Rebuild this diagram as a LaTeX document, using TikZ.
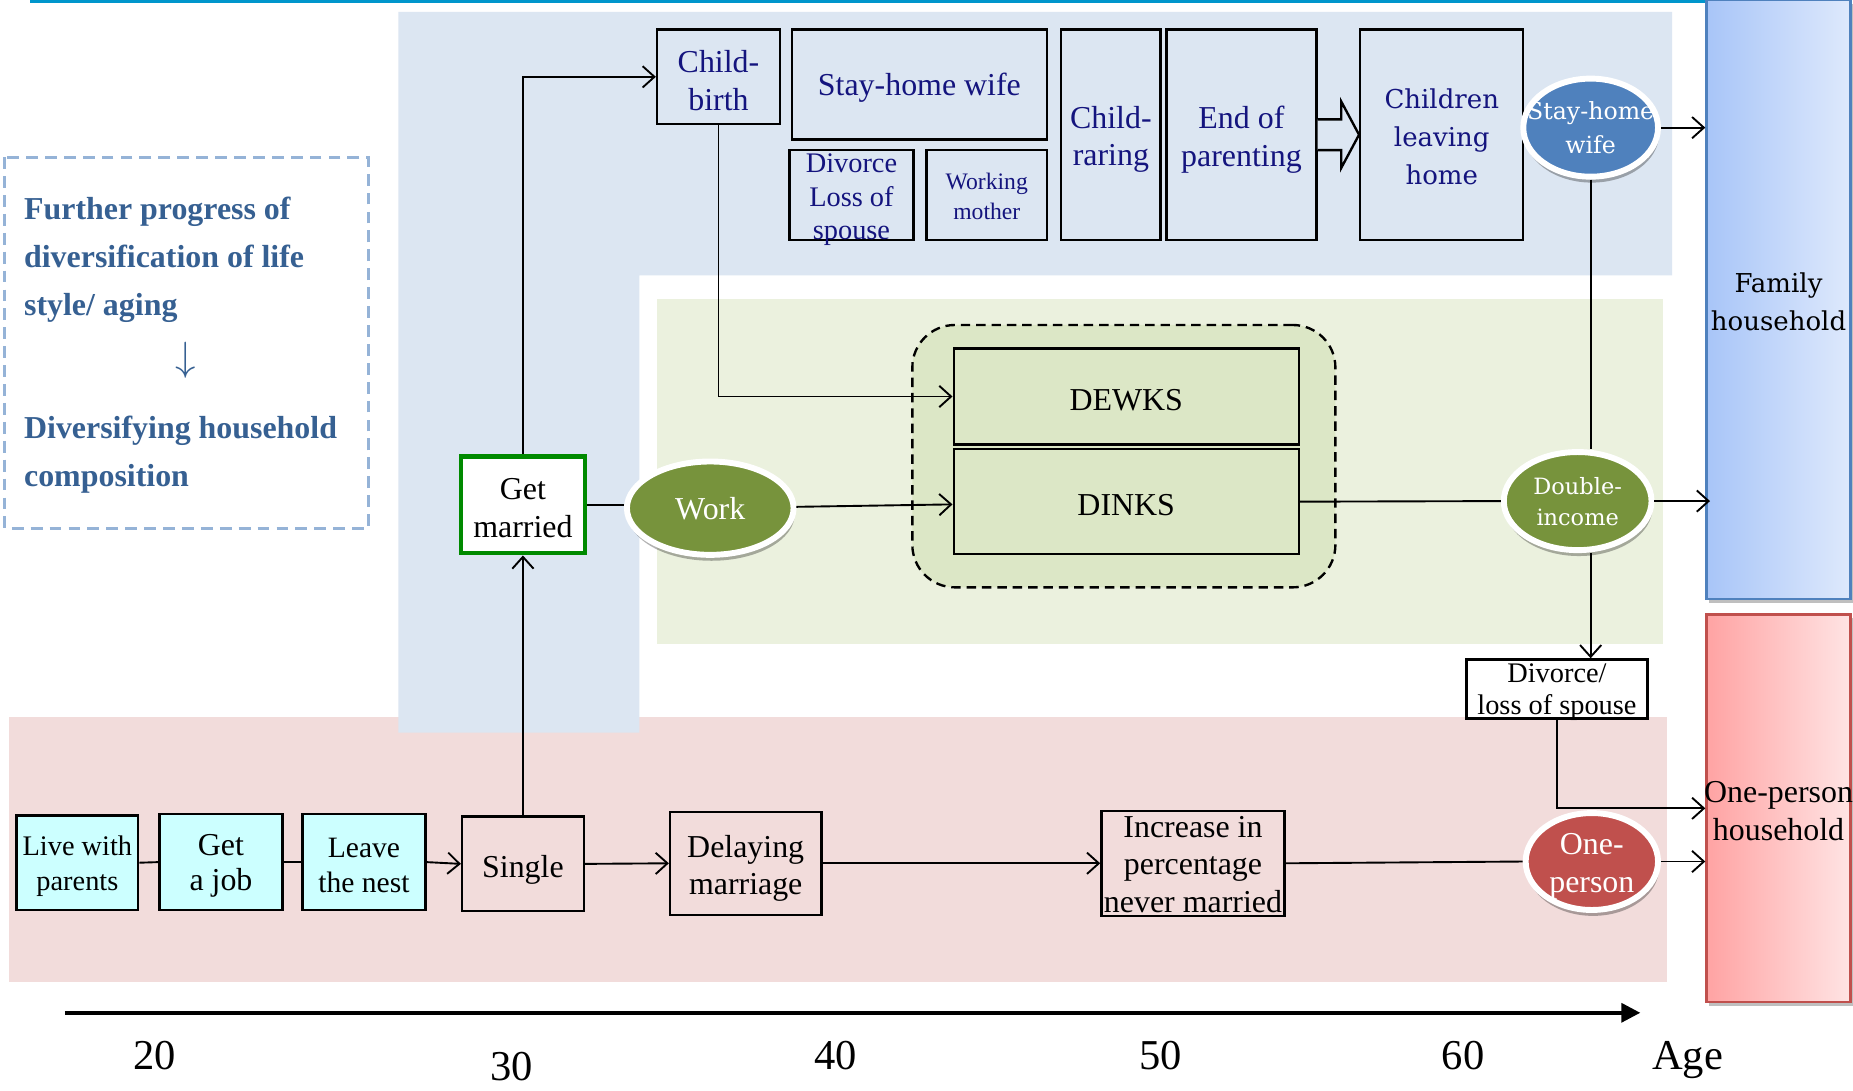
\documentclass[tikz,border=0pt]{standalone}
\usepackage{fontspec}
\setmainfont{Liberation Serif}
\newfontfamily\cent{DejaVu Serif}
\usetikzlibrary{arrows.meta,shapes.geometric,shadows,calc}
\definecolor{bgblue}{HTML}{DCE6F2}
\definecolor{bggreen}{HTML}{EBF1DE}
\definecolor{bgpink}{HTML}{F2DCDB}
\definecolor{innergreen}{HTML}{DCE7C6}
\definecolor{navyc}{HTML}{14147E}
\definecolor{lefttxt}{HTML}{366092}
\definecolor{dashblue}{HTML}{95B3D7}
\definecolor{cyanfill}{HTML}{CCFFFF}
\definecolor{gmgreen}{HTML}{008A00}
\definecolor{olive}{HTML}{77933C}
\definecolor{swblue}{HTML}{4F81BD}
\definecolor{opred}{HTML}{C0504D}
\definecolor{topline}{HTML}{0096CC}
\definecolor{famL}{HTML}{A8C5F8}
\definecolor{famR}{HTML}{DEE9FC}
\definecolor{oneL}{HTML}{FFA3A3}
\definecolor{oneR}{HTML}{FFE4E4}
% box with separately placed text: name, cx, cy, w, h, box style, text style, text
\newcommand{\mybox}[8]{%
  \node[box,sz={#4}{#5},#6] (#1) at (#2,#3) {};
  \node[tx,#7] (#1t) at (#2,#3) {#8};}
\begin{document}
\begin{tikzpicture}[x=0.5pt,y=-0.5pt,
  sz/.style 2 args={minimum width=#1*0.5pt, minimum height=#2*0.5pt},
  txt/.style={font=\fontsize{13.5}{16}\selectfont, align=center, inner sep=0pt},
  tx/.style={txt, yshift=-1.5pt},
  box/.style={draw, line width=1pt, rectangle, inner sep=0pt},
  navytext/.style={text=navyc},
  centtxt/.style={font=\cent\fontsize{11}{16}\selectfont, align=center, inner sep=0pt},
  ell/.style={ellipse, draw=white, line width=2.5pt, inner sep=0pt,
    drop shadow={shadow xshift=0.5pt, shadow yshift=-2.5pt, opacity=0.3, fill=black}},
  conn/.style={line width=0.8pt},
  arr/.style={conn, -{Straight Barb[length=5pt,width=9pt,line width=0.8pt]}},
  agelab/.style={font=\fontsize{18}{20}\selectfont, inner sep=0pt, anchor=base},
  lbold/.style={font=\bfseries\fontsize{13.5}{20.3}\selectfont, text=lefttxt, align=left, inner sep=0pt, anchor=west}
]
\useasboundingbox (0,0) rectangle (1568,923);
\fill[white] (0,0) rectangle (1568,923);

% background regions
\fill[bgpink] (8,607) rectangle (1411,831);
\fill[bgblue] (337,10) -- (1415,10) -- (1415,233) -- (541,233) -- (541,620) -- (337,620) -- cycle;
\fill[bggreen] (556,253) rectangle (1407,545);
\draw[topline, line width=1.5pt] (25,1) -- (1530,1);

% left dashed explanation box
\draw[dashblue, line width=1.3pt, dash pattern=on 5pt off 3pt] (4,133) rectangle (312,447);
\node[lbold] (lt1) at (20,220) {Further progress of\\diversification of life\\style/ aging};
\node[text=lefttxt, inner sep=0pt, font=\fontsize{16}{18}\selectfont] (ltarrow) at (157,305) {$\downarrow$};
\node[lbold] (lt2) at (20,385) {Diversifying household\\composition};

% top (family) row
\mybox{cb}{608}{65}{104}{80}{}{navytext}{Child-\\birth}
\mybox{shw}{778}{71.5}{216}{93}{}{navytext}{Stay-home wife}
\mybox{dls}{720.5}{165}{105}{76}{}{navytext, font=\fontsize{12}{14.25}\selectfont, yshift=-0.5pt}{Divorce\\Loss of\\spouse}
\mybox{wm}{835}{165}{102}{76}{}{navytext, font=\fontsize{10}{12.5}\selectfont, yshift=1pt}{Working\\mother}
\mybox{cr}{940}{114}{84}{178}{}{navytext, yshift=-0.5pt}{Child-\\raring}
\mybox{eop}{1050.5}{114}{127}{178}{}{navytext, yshift=-0.5pt}{End of\\parenting}
\node[box, sz={138}{178}] (clh) at (1220,114) {};
\node[centtxt, navytext] (clht) at (1220,116) {Children\\leaving\\home};
\draw[line width=1pt, fill=bgblue] ($(eop.east)+(0,-13)$) -- ($(eop.east)+(20,-13)$) -- ($(eop.east)+(20,-28)$) -- (clh.west) -- ($(eop.east)+(20,28)$) -- ($(eop.east)+(20,13)$) -- ($(eop.east)+(0,13)$);

\node[ell, fill=swblue, sz={114}{83}] (sw) at (1346,108) {};
\node[centtxt, text=white, font=\cent\fontsize{10}{14.5}\selectfont] (swt) at (1346,108) {Stay-home\\wife};

% household boxes
\node[draw=swblue, line width=1pt, left color=famL, right color=famR, sz={122}{507}, inner sep=0pt,
  drop shadow={shadow xshift=1pt, shadow yshift=-1.5pt, opacity=0.25, fill=black}] (fam) at (1505,253.5) {};
\node[centtxt] (famt) at (1505,255.5) {Family\\household};
\node[draw=opred, line width=1pt, left color=oneL, right color=oneR, sz={122}{328}, inner sep=0pt,
  drop shadow={shadow xshift=1pt, shadow yshift=-1.5pt, opacity=0.25, fill=black}] (one) at (1505,684) {};
\node[txt] (onet) at (1505,686) {One-person\\household};

% green (double income) region
\node[draw, line width=1pt, dash pattern=on 4pt off 2.5pt, fill=innergreen, rounded corners=18pt, sz={358}{222}] (dash) at (951,386) {};
\mybox{dewks}{953}{335.5}{292}{81}{}{}{DEWKS}
\mybox{dinks}{953}{424.5}{292}{89}{}{}{DINKS}
\node[ell, fill=olive, sz={141}{79}] (work) at (601,430) {};
\node[txt, text=white] (workt) at (601,430) {Work};
\node[ell, fill=olive, sz={125}{83}] (di) at (1335,424) {};
\node[centtxt, text=white, font=\cent\fontsize{9.5}{13.5}\selectfont] (dit) at (1335,424.5) {Double-\\income};
\mybox{gm}{442.5}{427}{105}{82}{draw=gmgreen, line width=2pt, fill=white}{}{Get\\married}

% divorce / loss of spouse
\mybox{dlos}{1317.5}{583}{153}{50}{fill=white}{font=\fontsize{12}{13.5}\selectfont}{Divorce/\\loss of spouse}

% bottom (single) row
\mybox{lwp}{65.5}{730}{103}{80}{fill=cyanfill}{font=\fontsize{12}{15}\selectfont}{Live with\\parents}
\mybox{gaj}{187}{729.5}{104}{81}{fill=cyanfill}{font=\fontsize{13.5}{15}\selectfont}{Get\\a job}
\mybox{ltn}{308}{729.5}{104}{81}{fill=cyanfill}{font=\fontsize{12.5}{15}\selectfont}{Leave\\the nest}
\mybox{sgl}{442.5}{731}{103}{80}{}{yshift=-1pt}{Single}
\mybox{dm}{631}{730.5}{128}{87}{}{font=\fontsize{13.5}{15.5}\selectfont, yshift=-0.75pt}{Delaying\\marriage}
\mybox{inc}{1009.5}{730.5}{155}{89}{}{yshift=1pt}{Increase in\\percentage\\never married}
\node[ell, fill=opred, sz={112}{82}] (op) at (1347,729) {};
\node[tx, text=white] (opt) at (1347,730) {One-\\person};

% connectors
\draw[conn] (lwp.east) -- (gaj.west);
\draw[conn] (gaj.east) -- (ltn.west);
\draw[arr] (ltn.east) -- (sgl.west);
\draw[arr] (sgl.north) -- (gm.south);
\draw[arr] (gm.north) |- (cb.west);
\draw[arr] (cb.south) |- (dewks.west);
\draw[conn] (gm.east) -- (gm.east -| work.west);
\draw[arr] (work) -- (dinks);
\draw[conn] (dinks.east) -- (di.west);
\draw[arr] (di.east) -- ($(di.east -| fam.west)+(4,0)$);
\draw[arr] (sw.east) -- (sw.east -| fam.west);
\draw[conn] (sw.south) -- (sw.south |- di.north);
\draw[arr] (sw.south |- di.south) -- (sw.south |- dlos.north);
\draw[arr] (dlos.south) |- (one.west);
\draw[arr] (op.east) -- (op.east -| one.west);
\draw[arr] (sgl.east) -- (dm.west);
\draw[arr] (dm.east) -- (inc.west);
\draw[conn] (inc.east) -- (op.west);

% age axis
\coordinate (ax0) at (55,857);
\coordinate (ax1) at (1388,857);
\draw[line width=1.5pt, -{Triangle[length=8pt,width=8pt]}] (ax0) -- (ax1);
\node[agelab] (a20) at (131,905) {20};
\node[agelab] (a30) at (433,914) {30};
\node[agelab] (a40) at (707,905) {40};
\node[agelab] (a50) at (982,905) {50};
\node[agelab] (a60) at (1238,905) {60};
\node[agelab] (aage) at (1428,905) {Age};
\end{tikzpicture}
\end{document}
